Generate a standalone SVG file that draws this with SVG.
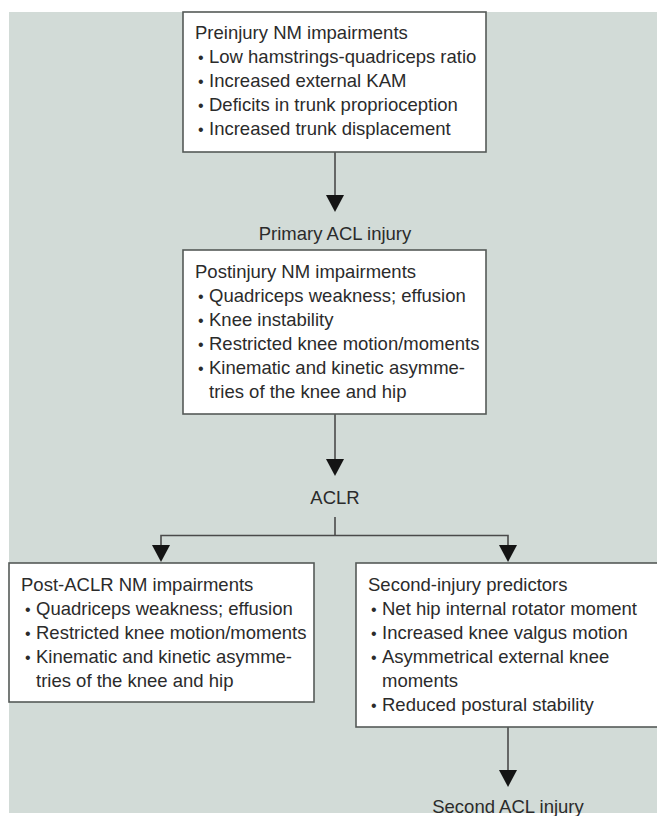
<svg xmlns="http://www.w3.org/2000/svg" xmlns:xlink="http://www.w3.org/1999/xlink" width="657" height="816" viewBox="0 0 657 816">
<style>
.box{fill:#ffffff;stroke:#555a58;stroke-width:1.6}
.t{font-family:"Liberation Sans",Arial,sans-serif;font-size:18.5px;fill:#2b2b2b}
.b{font-size:16px}
.c{text-anchor:middle}
.ln{stroke:#4a4a4a;stroke-width:1.6;fill:none}
.ah{fill:#141414}
</style>
<defs>
<path id="ah" d="M-9,0 L9,0 L0,17 Z"/>
</defs>
<rect x="0" y="0" width="657" height="816" fill="#ffffff"/>
<rect x="9" y="12" width="648" height="801" fill="#d2dbd7"/>

<g id="connectors">
<line class="ln" x1="335" y1="152" x2="335" y2="197"/>
<use class="ah" xlink:href="#ah" x="335" y="195"/>
<line class="ln" x1="335" y1="414" x2="335" y2="461"/>
<use class="ah" xlink:href="#ah" x="335" y="459"/>
<polyline class="ln" points="335,517 335,535.5"/>
<polyline class="ln" points="161,547 161,535.5 508,535.5 508,547"/>
<use class="ah" xlink:href="#ah" x="161" y="545"/>
<use class="ah" xlink:href="#ah" x="508" y="545"/>
<line class="ln" x1="508" y1="727" x2="508" y2="772"/>
<use class="ah" xlink:href="#ah" x="508" y="770"/>
</g>

<g id="preinjury">
<rect class="box" x="183" y="12" width="303" height="140"/>
<text class="t" x="195" y="39">Preinjury NM impairments</text>
<text class="t" y="63"><tspan class="b" x="198">•</tspan><tspan x="209">Low hamstrings-quadriceps ratio</tspan></text>
<text class="t" y="87"><tspan class="b" x="198">•</tspan><tspan x="209">Increased external KAM</tspan></text>
<text class="t" y="111"><tspan class="b" x="198">•</tspan><tspan x="209">Deficits in trunk proprioception</tspan></text>
<text class="t" y="135"><tspan class="b" x="198">•</tspan><tspan x="209">Increased trunk displacement</tspan></text>
</g>

<g id="primary">
<text class="t c" x="335" y="240">Primary ACL injury</text>
</g>

<g id="postinjury">
<rect class="box" x="183" y="250" width="303" height="164"/>
<text class="t" x="195" y="278">Postinjury NM impairments</text>
<text class="t" y="302"><tspan class="b" x="198">•</tspan><tspan x="209">Quadriceps weakness; effusion</tspan></text>
<text class="t" y="326"><tspan class="b" x="198">•</tspan><tspan x="209">Knee instability</tspan></text>
<text class="t" y="350"><tspan class="b" x="198">•</tspan><tspan x="209">Restricted knee motion/moments</tspan></text>
<text class="t" y="374"><tspan class="b" x="198">•</tspan><tspan x="209">Kinematic and kinetic asymme-</tspan></text>
<text class="t" x="209" y="398">tries of the knee and hip</text>
</g>

<g id="aclr">
<text class="t c" x="335" y="504">ACLR</text>
</g>

<g id="postaclr">
<rect class="box" x="9" y="563" width="305" height="139"/>
<text class="t" x="21" y="591">Post-ACLR NM impairments</text>
<text class="t" y="615"><tspan class="b" x="25">•</tspan><tspan x="36">Quadriceps weakness; effusion</tspan></text>
<text class="t" y="639"><tspan class="b" x="25">•</tspan><tspan x="36">Restricted knee motion/moments</tspan></text>
<text class="t" y="663"><tspan class="b" x="25">•</tspan><tspan x="36">Kinematic and kinetic asymme-</tspan></text>
<text class="t" x="36" y="687">tries of the knee and hip</text>
</g>

<g id="predictors">
<rect class="box" x="356" y="563" width="310" height="164"/>
<text class="t" x="368" y="591">Second-injury predictors</text>
<text class="t" y="615"><tspan class="b" x="371">•</tspan><tspan x="382">Net hip internal rotator moment</tspan></text>
<text class="t" y="639"><tspan class="b" x="371">•</tspan><tspan x="382">Increased knee valgus motion</tspan></text>
<text class="t" y="663"><tspan class="b" x="371">•</tspan><tspan x="382">Asymmetrical external knee</tspan></text>
<text class="t" x="382" y="687">moments</text>
<text class="t" y="711"><tspan class="b" x="371">•</tspan><tspan x="382">Reduced postural stability</tspan></text>
</g>

<g id="second">
<text class="t c" x="508" y="813">Second ACL injury</text>
</g>
</svg>
